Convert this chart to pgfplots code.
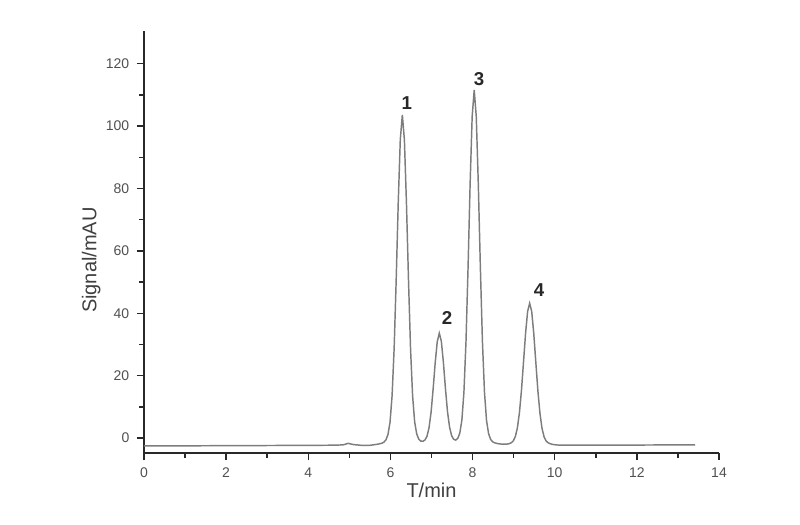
\documentclass[border=0pt]{standalone}
\usepackage{pgfplots}
\pgfplotsset{compat=1.18}
\usepackage{fontspec}
\setmainfont{Liberation Sans}
\definecolor{curve}{RGB}{125,125,125}
\definecolor{axisc}{RGB}{40,40,40}
\definecolor{labc}{RGB}{80,80,80}
\begin{document}
\begin{tikzpicture}
\useasboundingbox (-108pt,-54pt) rectangle (492pt,339.75pt);
\begin{axis}[
  at={(0,0)}, anchor=south west,
  scale only axis, width=431.25pt, height=316.5pt,
  xmin=0, xmax=14, ymin=-4.8, ymax=130.5,
  axis x line*=bottom, axis y line*=left,
  axis line style={axisc, line width=1.5pt},
  tick align=outside,
  xtick={0,2,...,14}, ytick={0,20,...,120},
  minor tick num=1,
  major tick length=5.5pt, minor tick length=3.5pt,
  every tick/.style={axisc, line width=1.1pt},
  tick label style={font=\fontsize{10.5}{12}\selectfont, text=labc},
  xticklabel style={yshift=-2pt},
  yticklabel style={xshift=-2pt},
  /pgf/number format/assume math mode=true,
  xlabel={T/min}, ylabel={Signal/mAU},
  label style={font=\fontsize{15}{17}\selectfont, text=labc!80!black},
  x label style={at={(axis description cs:0.5,-0.088)}, anchor=center},
  y label style={at={(axis description cs:-0.092,0.457)}, anchor=center, rotate=0},
  clip=false,
]
\addplot[curve, line width=1.1pt] coordinates {
(0,-2.5) (1,-2.5) (2,-2.45) (3,-2.4) (4,-2.35) (4.6,-2.3) (4.85,-2.2) (4.97,-1.7) (5.1,-2.1) (5.3,-2.35) (5.49,-2.35)
(5.69,-1.98) (5.79,-1.66) (5.84,-1.34) (5.89,-0.60) (5.94,1.10) (5.99,5.02) (6.04,13.5) (6.09,28.55) (6.14,50.6) (6.19,75.4) (6.24,95.65)
(6.29,103.6)
(6.34,95.65) (6.39,75.4) (6.44,50.6) (6.49,28.55) (6.54,13.5) (6.59,5.16) (6.64,1.3) (6.69,-0.35) (6.74,-0.98) (6.79,-1.05) (6.84,-0.63) (6.89,0.54)
(6.94,3.3) (6.99,8.3) (7.04,15.75) (7.09,24.1) (7.14,30.9)
(7.19,33.6)
(7.24,31.0) (7.29,24.2) (7.34,15.8) (7.39,8.4) (7.44,3.5) (7.49,0.75) (7.54,-0.41) (7.59,-0.65) (7.64,-0.10) (7.69,1.6)
(7.74,5.8) (7.79,14.8) (7.84,31.0) (7.89,54.6) (7.94,81.3) (7.99,103.05)
(8.04,111.6)
(8.09,103.05) (8.14,81.3) (8.19,54.6) (8.24,31.0) (8.29,14.7) (8.34,5.6) (8.39,1.4) (8.44,-0.44) (8.49,-1.23) (8.54,-1.55) (8.59,-1.72) (8.64,-1.85) (8.69,-1.92) (8.74,-1.97) (8.79,-1.96) (8.84,-1.93) (8.89,-1.82) (8.94,-1.53) (8.99,-0.94)
(9.04,0.43) (9.09,3.16) (9.14,8.0) (9.19,15.2) (9.24,24.3) (9.29,33.5) (9.34,40.56)
(9.39,43.2)
(9.44,40.56) (9.49,33.5) (9.54,24.3) (9.59,15.2) (9.64,8.0) (9.69,3.16) (9.74,0.43) (9.79,-0.94) (9.84,-1.53) (9.89,-1.82) (9.94,-2.02) (9.99,-2.13) (10.09,-2.26) (10.19,-2.3)
(10.5,-2.3) (11,-2.3) (12,-2.25) (13,-2.2) (13.42,-2.2)
};
\node[font=\fontsize{14}{16}\selectfont\bfseries, text=axisc] at (axis cs:6.40,107.4) {1};
\node[font=\fontsize{14}{16}\selectfont\bfseries, text=axisc] at (axis cs:7.38,38.5) {2};
\node[font=\fontsize{14}{16}\selectfont\bfseries, text=axisc] at (axis cs:8.16,115.1) {3};
\node[font=\fontsize{14}{16}\selectfont\bfseries, text=axisc] at (axis cs:9.62,47.5) {4};
\end{axis}
\end{tikzpicture}
\end{document}
